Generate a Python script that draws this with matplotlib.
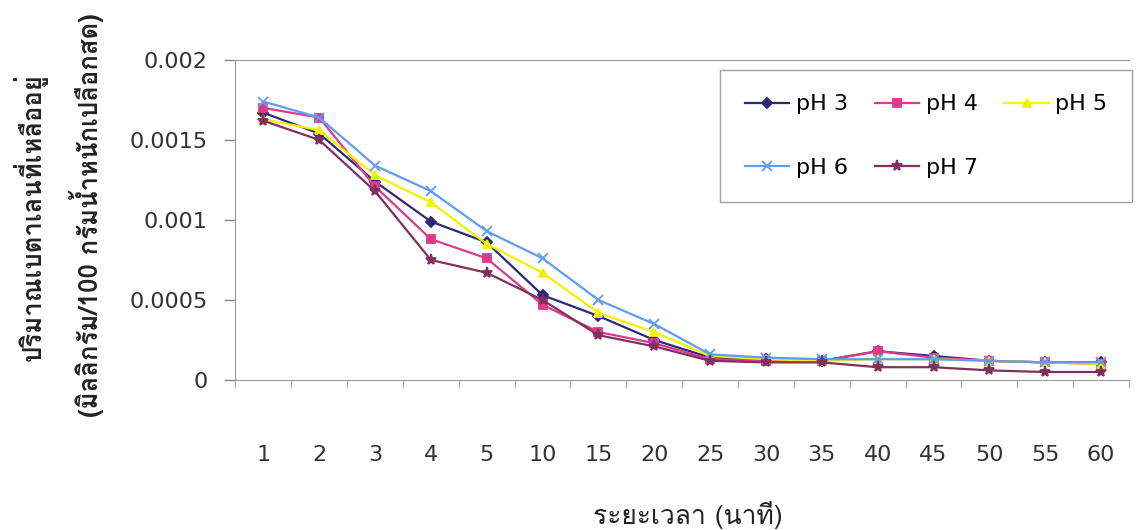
import matplotlib.pyplot as plt

times = ['1', '2', '3', '4', '5', '10', '15', '20', '25', '30', '35', '40', '45', '50', '55', '60']
ph3 = [0.00167, 0.00154, 0.00124, 0.00099, 0.00086, 0.00053, 0.00040, 0.00025, 0.00014, 0.00013, 0.00012, 0.00018, 0.00015, 0.00012, 0.00011, 0.00011]
ph4 = [0.00170, 0.00164, 0.00121, 0.00088, 0.00076, 0.00047, 0.00030, 0.00023, 0.00013, 0.00012, 0.00012, 0.00018, 0.00014, 0.00012, 0.00011, 0.00010]
ph5 = [0.00163, 0.00156, 0.00128, 0.00111, 0.00085, 0.00067, 0.00042, 0.00030, 0.00015, 0.00013, 0.00012, 0.00013, 0.00013, 0.00012, 0.00011, 0.00010]
ph6 = [0.00174, 0.00164, 0.00134, 0.00118, 0.00093, 0.00076, 0.00050, 0.00035, 0.00016, 0.00014, 0.00013, 0.00013, 0.00013, 0.00012, 0.00011, 0.00011]
ph7 = [0.00162, 0.00150, 0.00118, 0.00075, 0.00067, 0.00050, 0.00028, 0.00021, 0.00012, 0.00011, 0.00011, 0.00008, 0.00008, 0.00006, 0.00005, 0.00005]

labels = ['pH 3', 'pH 4', 'pH 5', 'pH 6', 'pH 7']
colors = ['#2a2a78', '#e0388a', '#f2f200', '#5f9cf2', '#80305e']
markers = ['D', 's', '^', 'x', '*']
sizes = [5, 6, 6, 7, 8]

plt.rcParams['font.family'] = ['DejaVu Sans']
thai = ['Loma', 'Noto Sans Thai Looped', 'DejaVu Sans']

fig = plt.figure(figsize=(11.37, 5.30), dpi=100)
ax = fig.add_axes([0.207, 0.283, 0.786, 0.604])

x = list(range(len(times)))
handles = []
for vals, lab, c, m, s in zip([ph3, ph4, ph5, ph6, ph7], labels, colors, markers, sizes):
    h, = ax.plot(x, vals, color=c, marker=m, markersize=s, linewidth=1.6, label=lab,
                 markeredgewidth=1.3)
    handles.append(h)

ax.set_xlim(-0.5, len(times) - 0.5)
ax.set_ylim(0, 0.002)
ax.set_yticks([0, 0.0005, 0.001, 0.0015, 0.002])
ax.set_yticklabels(['0', '0.0005', '0.001', '0.0015', '0.002'], fontsize=16, color='#333333')
ax.tick_params(axis='y', direction='out', length=8, width=1, color='#888888', pad=12)

# tick marks between categories, labels at the categories
ax.set_xticks([i - 0.5 for i in range(len(times) + 1)])
ax.set_xticklabels([])
ax.tick_params(axis='x', which='major', direction='out', length=6, color='#aaaaaa')
ax.set_xticks(x, minor=True)
ax.set_xticklabels(times, minor=True, fontsize=16, color='#333333')
ax.tick_params(axis='x', which='minor', length=0, pad=47)

for side in ['left', 'top', 'bottom']:
    ax.spines[side].set_color('#999999')
ax.spines['right'].set_visible(False)

order = [0, 3, 1, 4, 2]
ax.legend([handles[i] for i in order], [labels[i] for i in order], ncol=3,
          loc='upper right', bbox_to_anchor=(0.9956, 0.868), bbox_transform=fig.transFigure,
          borderaxespad=0, fontsize=16, frameon=True, fancybox=False, edgecolor='#888888',
          handlelength=2.0, handletextpad=0.3, columnspacing=1.2, labelspacing=1.95,
          borderpad=1.1)

fig.text(0.027, 0.59, 'ปริมาณเบตาเลนที่เหลืออยู่', rotation=90, ha='center', va='center',
         fontsize=18.5, fontweight='bold', family=thai, color='#222222')
fig.text(0.076, 0.594, '(มิลลิกรัม/100 กรัมน้ำหนักเปลือกสด)', rotation=90, ha='center', va='center',
         fontsize=18.5, fontweight='bold', family=thai, color='#222222')
fig.text(0.605, 0.028, 'ระยะเวลา (นาที)', ha='center', va='center', fontsize=19,
         family=thai, color='#222222')

fig.savefig('out.png', dpi=100, facecolor='white')
